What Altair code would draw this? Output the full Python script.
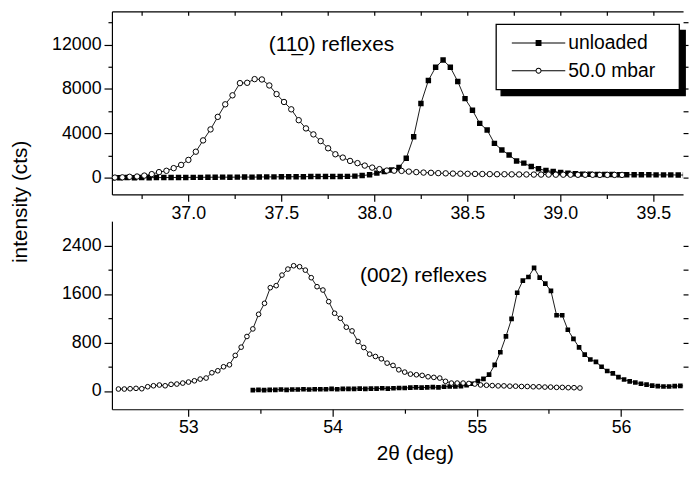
import altair as alt
import pandas as pd

FONT = "Liberation Sans"
SERIES = ["unloaded", "50.0 mbar"]

# ---------------- top panel: (1-10) reflexes ----------------
TOP_UNLOADED_X = [36.592, 36.632, 36.671, 36.711, 36.750, 36.790, 36.829, 36.869, 36.908, 36.948,
                  36.987, 37.027, 37.066, 37.106, 37.145, 37.185, 37.224, 37.264, 37.303, 37.343,
                  37.382, 37.422, 37.461, 37.501, 37.540, 37.580, 37.619, 37.659, 37.698, 37.738,
                  37.777, 37.817, 37.856, 37.896, 37.935, 37.975, 38.014, 38.054, 38.093, 38.133,
                  38.172, 38.212, 38.251, 38.291, 38.330, 38.370, 38.409, 38.449, 38.488, 38.528,
                  38.567, 38.607, 38.646, 38.686, 38.725, 38.765, 38.804, 38.844, 38.883, 38.923,
                  38.962, 39.002, 39.041, 39.081, 39.120, 39.160, 39.199, 39.239, 39.278, 39.318,
                  39.357, 39.397, 39.436, 39.476, 39.515, 39.555, 39.594, 39.634, 39.673]
TOP_UNLOADED_Y = [10, 0, 20, 10, 20, 10, 20, 20, 30, 20,
                  30, 40, 40, 50, 50, 60, 50, 60, 70, 60,
                  70, 80, 80, 90, 90, 100, 100, 110, 110, 110,
                  120, 120, 130, 150, 200, 270, 420, 560, 700, 920,
                  1760, 3700, 6690, 8770, 9960, 10620, 9960, 8680, 7130, 6090,
                  4900, 4300, 3100, 2510, 2060, 1520, 1320, 1010, 810, 650,
                  560, 480, 420, 360, 330, 320, 300, 290, 290, 280,
                  280, 270, 270, 270, 260, 260, 260, 250, 250]

TOP_50_X = [36.606, 36.646, 36.685, 36.725, 36.764, 36.804, 36.843, 36.883, 36.922, 36.962,
            37.001, 37.041, 37.080, 37.120, 37.159, 37.199, 37.238, 37.278, 37.317, 37.357,
            37.396, 37.436, 37.475, 37.515, 37.554, 37.594, 37.633, 37.673, 37.712, 37.752,
            37.791, 37.831, 37.870, 37.910, 37.949, 37.989, 38.028, 38.068, 38.107, 38.147,
            38.186, 38.226, 38.265, 38.305, 38.344, 38.384, 38.423, 38.463, 38.502, 38.542,
            38.581, 38.621, 38.660, 38.700, 38.739, 38.779, 38.818, 38.858, 38.897, 38.937,
            38.976, 39.016, 39.055, 39.095, 39.134, 39.174, 39.213, 39.253, 39.292, 39.332]
TOP_50_Y = [20, 40, 90, 115, 200, 330, 510, 630, 870, 1160,
            1610, 2350, 3370, 4360, 5490, 6620, 7430, 8530, 8560, 8890,
            8860, 8320, 7540, 6830, 6170, 5190, 4450, 3910, 3310, 2660,
            2120, 1820, 1520, 1320, 1100, 920, 780, 650, 640, 620,
            560, 510, 470, 450, 420, 400, 380, 370, 360, 350,
            340, 330, 320, 320, 310, 300, 300, 290, 290, 290,
            280, 280, 280, 270, 270, 270, 260, 260, 260, 260]

# ---------------- bottom panel: (002) reflexes ----------------
BOT_UNLOADED_X = [53.447, 53.486, 53.525, 53.564, 53.603, 53.642, 53.681, 53.720, 53.759, 53.798,
                  53.837, 53.876, 53.915, 53.954, 53.993, 54.032, 54.071, 54.110, 54.149, 54.188,
                  54.227, 54.266, 54.305, 54.344, 54.383, 54.422, 54.461, 54.500, 54.539, 54.578,
                  54.617, 54.656, 54.695, 54.734, 54.773, 54.812, 54.851, 54.890, 54.929, 54.968,
                  55.007, 55.046, 55.085, 55.124, 55.163, 55.202, 55.241, 55.280, 55.319, 55.358,
                  55.397, 55.436, 55.475, 55.514, 55.553, 55.592, 55.631, 55.670, 55.709, 55.748,
                  55.787, 55.826, 55.865, 55.904, 55.943, 55.982, 56.021, 56.060, 56.099, 56.138,
                  56.177, 56.216, 56.255, 56.294, 56.333, 56.372, 56.411, 56.450]
BOT_UNLOADED_Y = [15, 20, 15, 20, 20, 25, 20, 25, 25, 30,
                  25, 30, 30, 30, 35, 30, 35, 35, 35, 40,
                  35, 40, 40, 45, 40, 45, 50, 50, 55, 60,
                  55, 60, 65, 60, 70, 75, 75, 80, 95, 120,
                  165, 200, 270, 430, 640, 900, 1190, 1620, 1820, 1880,
                  2030, 1870, 1770, 1650, 1250, 1250, 1010, 860, 720, 600,
                  520, 480, 400, 330, 290, 230, 190, 160, 140, 120,
                  105, 90, 80, 75, 75, 80, 85, 85]

BOT_50_X = [52.515, 52.556, 52.596, 52.637, 52.677, 52.718, 52.758, 52.799, 52.839, 52.880,
            52.920, 52.961, 53.001, 53.042, 53.082, 53.123, 53.163, 53.204, 53.244, 53.285,
            53.325, 53.366, 53.406, 53.447, 53.487, 53.528, 53.568, 53.609, 53.649, 53.690,
            53.730, 53.771, 53.811, 53.852, 53.892, 53.933, 53.973, 54.014, 54.054, 54.095,
            54.135, 54.176, 54.216, 54.257, 54.297, 54.338, 54.378, 54.419, 54.459, 54.500,
            54.540, 54.581, 54.621, 54.662, 54.702, 54.743, 54.783, 54.824, 54.864, 54.905,
            54.945, 54.986, 55.026, 55.067, 55.107, 55.148, 55.188, 55.229, 55.269, 55.310,
            55.350, 55.391, 55.431, 55.472, 55.512, 55.553, 55.593, 55.634, 55.674, 55.715]
BOT_50_Y = [33, 33, 38, 44, 38, 71, 87, 99, 87, 110,
            115, 131, 148, 169, 197, 214, 301, 334, 400, 432,
            587, 723, 899, 1024, 1265, 1446, 1704, 1737, 1911, 2010,
            2065, 2049, 1993, 1868, 1720, 1665, 1474, 1282, 1199, 1052,
            991, 817, 718, 608, 570, 531, 460, 422, 350, 312,
            279, 268, 258, 235, 225, 214, 160, 131, 131, 131,
            125, 115, 100, 95, 90, 85, 85, 80, 80, 75,
            75, 70, 70, 65, 65, 60, 60, 55, 55, 50]

# ---------------- axes / ticks ----------------
TOP_X_DOMAIN = [36.59, 39.66]
TOP_Y_DOMAIN = [-1500, 15000]
BOT_X_DOMAIN = [52.47, 56.43]
BOT_Y_DOMAIN = [-300, 2800]

TOP_X_MAJOR = [37.0, 37.5, 38.0, 38.5, 39.0, 39.5]
TOP_X_MINOR = [36.75, 37.25, 37.75, 38.25, 38.75, 39.25]
TOP_X_ALL = [36.75, 37.0, 37.25, 37.5, 37.75, 38.0, 38.25, 38.5, 38.75, 39.0, 39.25, 39.5]
TOP_Y_MAJOR = [0, 4000, 8000, 12000]
TOP_Y_MINOR = [2000, 6000, 10000, 14000]
TOP_Y_ALL = [0, 2000, 4000, 6000, 8000, 10000, 12000, 14000]

BOT_X_MAJOR = [53, 54, 55, 56]
BOT_X_MINOR = [53.5, 54.5, 55.5]
BOT_Y_MAJOR = [0, 800, 1600, 2400]
BOT_Y_MINOR = [400, 1200, 2000]
BOT_Y_RIGHT = [400, 800, 1200, 1600, 2000, 2400]

TOP_LABEL = "(11\u03320) reflexes"
BOT_LABEL = "(002) reflexes"
Y_TITLE = "intensity (cts)"
X_TITLE = "2\u03b8 (deg)"

W = 577
H_TOP = 185
H_BOT = 190

# legend symbols: a line with a filled square / an open circle, drawn as filled outlines
PATH_SQ = "M-1,-0.02H1V0.02H-1Z M-0.11,-0.11H0.11V0.11H-0.11Z"
PATH_CI = ("M-1,-0.02H-0.1V0.02H-1Z M0.1,-0.02H1V0.02H0.1Z "
           "M0.11,0A0.11,0.11,0,1,1,-0.11,0A0.11,0.11,0,1,1,0.11,0Z "
           "M0.075,0A0.075,0.075,0,1,0,-0.075,0A0.075,0.075,0,1,0,0.075,0Z")
PATH_LINE = "M-1,0L1,0"


def ax(values, size, orient, labels=True, domain=True, fmt=None, **kw):
    args = dict(values=values, tickSize=size, orient=orient, labels=labels, domain=domain,
                grid=False, title=None, labelOverlap=False)
    if fmt:
        args["format"] = fmt
    args.update(kw)
    return alt.Axis(**args)


def panel(unl, p50, xdom, ydom, x_axes, y_axes, label, label_pos, height, msize, extra=None):
    xs = alt.Scale(domain=xdom, nice=False, zero=False)
    ys = alt.Scale(domain=ydom, nice=False, zero=False)
    d_unl = pd.DataFrame({"x": unl[0], "y": unl[1]})
    d_50 = pd.DataFrame({"x": p50[0], "y": p50[1]})

    def enc(i):
        return dict(x=alt.X("x:Q", scale=xs, axis=x_axes[i]),
                    y=alt.Y("y:Q", scale=ys, axis=y_axes[i]))

    l1 = alt.Chart(d_unl).mark_line(color="black", strokeWidth=0.9, clip=True).encode(**enc(0))
    p1 = alt.Chart(d_unl).mark_point(shape="square", filled=True, color="black", size=msize,
                                     opacity=1, clip=True).encode(**enc(1))
    l2 = alt.Chart(d_50).mark_line(color="black", strokeWidth=0.9, clip=True).encode(**enc(2))
    p2 = alt.Chart(d_50).mark_point(shape="circle", filled=True, fill="white", stroke="black",
                                    strokeWidth=1, size=msize, opacity=1, clip=True).encode(**enc(3))
    txt = alt.Chart(pd.DataFrame({"t": [label]})).mark_text(
        font=FONT, fontSize=21, color="black", align="center", baseline="middle").encode(
        x=alt.XDatum(label_pos[0], type="quantitative", scale=xs, axis=None),
        y=alt.YDatum(label_pos[1], type="quantitative", scale=ys, axis=None),
        text="t:N")
    layers = [l1, p1, l2, p2, txt]
    if extra is not None:
        layers.append(extra)
    return alt.layer(*layers).resolve_axis(x="independent", y="independent").properties(
        width=W, height=height)


# ---------------- legend (from a hidden, clipped layer) ----------------
leg_df = pd.DataFrame({"series": SERIES, "shadow": SERIES})
common_leg = dict(orient="none", title=".", titleOrient="right", titleFontSize=4,
                  padding=5, symbolOffset=11, labelOffset=3,
                  clipHeight=28, rowPadding=0, labelFont=FONT, labelFontSize=19.5,
                  symbolSize=2916, labelColor="black")
main_leg = alt.Legend(legendX=388, legendY=13, strokeColor="black", fillColor="white",
                      titleColor="white", titlePadding=17, symbolStrokeColor="black",
                      symbolStrokeWidth=0, **common_leg)
# drop shadow: same box, black, offset down-right, drawn behind; labels left empty
shadow_leg = alt.Legend(legendX=393, legendY=19, strokeColor="black", fillColor="black",
                        titleColor="black", titlePadding=105, labelExpr="''",
                        symbolStrokeColor="black", symbolStrokeWidth=1,
                        symbolType=PATH_LINE, **common_leg)
hidden = alt.Chart(leg_df).mark_point(size=2916, filled=False, opacity=1, clip=True).encode(
    x=alt.value(-300), y=alt.value(-300),
    color=alt.Color("shadow:N", scale=alt.Scale(range=["black", "black"]), legend=shadow_leg),
    shape=alt.Shape("series:N", scale=alt.Scale(domain=SERIES, range=[PATH_SQ, PATH_CI]),
                    legend=main_leg),
    fill=alt.Fill("series:N", scale=alt.Scale(domain=SERIES, range=["black", "black"]),
                  legend=main_leg),
)

# ---------------- axes definitions ----------------
top_x_axes = [
    ax(TOP_X_MAJOR, 7, "bottom", fmt=".1f", labelPadding=3),
    ax(TOP_X_MINOR, 4, "bottom", labels=False, domain=False),
    ax(TOP_X_ALL, 0, "top", labels=False, ticks=False),
    ax(TOP_X_ALL, 4, "top", labels=False, domain=False, offset=-4),
]
top_y_axes = [
    ax(TOP_Y_MAJOR, 8, "left", fmt="d", labelPadding=3, title=Y_TITLE, titleX=-92, titleY=192,
       titleAlign="center", titleBaseline="middle"),
    ax(TOP_Y_MINOR, 4, "left", labels=False, domain=False),
    ax(TOP_Y_ALL, 5, "right", labels=False, domain=False),
    None,
]
bot_x_axes = [
    ax(BOT_X_MAJOR, 7, "bottom", fmt="d", labelPadding=3, title=X_TITLE, titleX=306, titleY=45,
       titleAlign="center", titleBaseline="middle"),
    ax(BOT_X_MINOR, 4, "bottom", labels=False, domain=False),
    None,
    None,
]
bot_y_axes = [
    ax(BOT_Y_MAJOR, 8, "left", fmt="d", labelPadding=3),
    ax(BOT_Y_MINOR, 4, "left", labels=False, domain=False),
    ax(BOT_Y_RIGHT, 5, "right", labels=False, domain=False),
    None,
]

top = panel((TOP_UNLOADED_X, TOP_UNLOADED_Y), (TOP_50_X, TOP_50_Y), TOP_X_DOMAIN, TOP_Y_DOMAIN,
            top_x_axes, top_y_axes, TOP_LABEL, (37.77, 12000), H_TOP, 30, extra=hidden)
bottom = panel((BOT_UNLOADED_X, BOT_UNLOADED_Y), (BOT_50_X, BOT_50_Y), BOT_X_DOMAIN, BOT_Y_DOMAIN,
               bot_x_axes, bot_y_axes, BOT_LABEL, (54.63, 1890), H_BOT, 22)

chart = alt.vconcat(top, bottom, spacing=27, bounds="flush").properties(
    padding={"left": 2, "top": 0, "right": 0, "bottom": 0}, background="white"
).configure_view(stroke=None).configure_axis(
    labelFont=FONT, labelFontSize=18, labelColor="black",
    titleFont=FONT, titleFontSize=21, titleFontWeight="normal", titleColor="black",
    domainColor="black", tickColor="black", domainWidth=1.2, tickWidth=1.2,
).configure_legend(strokeWidth=1.3)

chart.save("out.html", embed_options={"renderer": "svg", "actions": False})
